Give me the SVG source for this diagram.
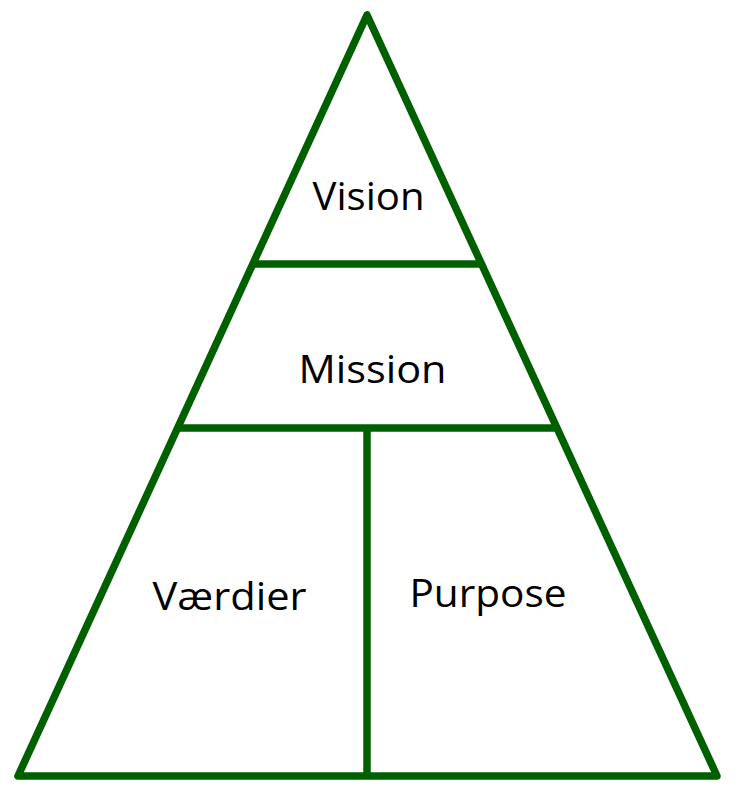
<svg xmlns="http://www.w3.org/2000/svg" width="745" height="795" viewBox="0 0 745 795">
<style>
.ln{stroke:#006000;stroke-width:7.5;fill:none;stroke-linejoin:round;stroke-linecap:round}
.t{font-family:"Open Sans","Noto Sans",sans-serif;font-size:39px;fill:#000;text-anchor:middle}
</style>
<rect width="745" height="795" fill="#fff"/>
<g id="connectors">
<polygon class="ln" points="367,15 18,776 717,776"/>
<line class="ln" x1="253" y1="264" x2="481" y2="264" style="stroke-linecap:butt"/>
<line class="ln" x1="178" y1="428" x2="556" y2="428" style="stroke-linecap:butt"/>
<line class="ln" x1="367" y1="428" x2="367" y2="776" style="stroke-linecap:butt"/>
</g>
<g id="vision"><text class="t" x="368.5" y="210" textLength="112" lengthAdjust="spacingAndGlyphs">Vision</text></g>
<g id="mission"><text class="t" x="372.5" y="383" textLength="148" lengthAdjust="spacingAndGlyphs">Mission</text></g>
<g id="vaerdier"><text class="t" x="229.5" y="610" textLength="154" lengthAdjust="spacingAndGlyphs">Værdier</text></g>
<g id="purpose"><text class="t" x="488" y="607" textLength="157" lengthAdjust="spacingAndGlyphs">Purpose</text></g>
</svg>
